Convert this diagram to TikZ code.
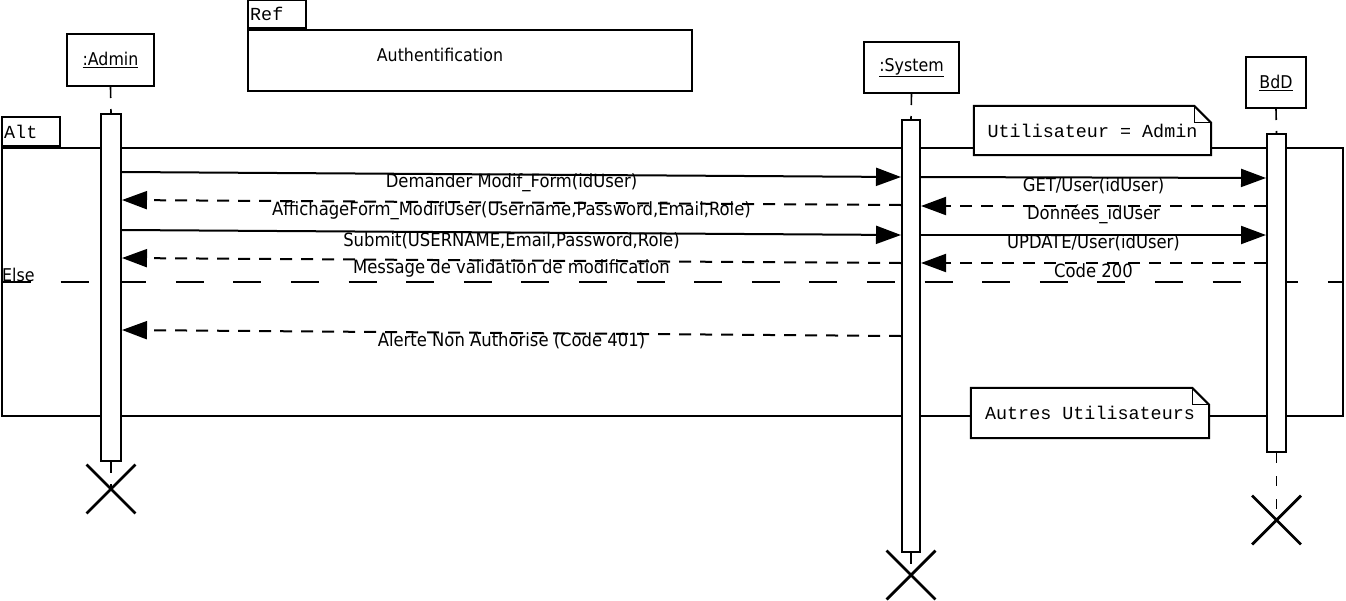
\documentclass[tikz,border=0pt]{standalone}
\usepackage{fontspec}
\setmainfont{DejaVu Sans Condensed}
\newfontfamily\codefont{Liberation Mono}
\usetikzlibrary{arrows.meta,shapes.misc}
\begin{document}
\begin{tikzpicture}[x=1pt,y=-1pt,
  every node/.style={font=\fontsize{17.6}{20}\selectfont, inner sep=0pt},
  objbox/.style={draw, line width=2pt, fill=white},
  actbar/.style={draw, line width=2pt, fill=white, anchor=north, minimum width=19pt},
  frame/.style={draw, line width=2pt},
  life/.style={line width=1.6pt, dash pattern=on 11pt off 11pt},
  call/.style={line width=2pt, -{Triangle[length=25pt,width=18pt]}},
  reply/.style={call, dash pattern=on 12pt off 9pt},
  lbl/.style={midway, yshift=-8pt, font=\fontsize{18.25}{20}\selectfont},
  mono/.style={font=\codefont\fontsize{18.4}{20}\selectfont},
  notebox/.style={mono, fill=white},
  fold/.style={line width=1pt},
  kill/.style={draw, cross out, line width=2.8pt, minimum width=46pt, minimum height=46pt},
]
\useasboundingbox (0,0) rectangle (1346,600);

% lifeline heads
\node[objbox, minimum width=87pt, minimum height=52pt] (admin) at (110.5,60) {\underline{:Admin}};
\node[objbox, minimum width=95pt, minimum height=51pt] (sys) at (911.5,67.5) {\underline{:System}};
\node[objbox, minimum width=60pt, minimum height=51pt] (bdd) at (1276,82.5) {\underline{BdD}};

% referenced interaction
\node[frame, anchor=north west, minimum width=444pt, minimum height=61pt] (ref) at (247,29) {};
\node[frame, anchor=south west, minimum width=58pt, minimum height=28pt] (reftab) at (ref.north west) {};
\node[mono, anchor=west] (reflbl) at ([xshift=3pt]reftab.west) {Ref};
\node (auth) at (440,55) {Authentification};

% combined fragment
\node[frame, anchor=north west, minimum width=1341pt, minimum height=268pt] (alt) at (1,147) {};
\node[frame, anchor=south west, minimum width=58pt, minimum height=29pt] (alttab) at (alt.north west) {};
\node[mono, anchor=west] (altlbl) at ([xshift=3pt]alttab.west) {Alt};
\coordinate (elseL) at (3,282);
\draw[line width=2pt, dash pattern=on 28pt off 29.6pt] (elseL) -- (alt.east |- elseL);
\node[anchor=west] (elselbl) at (2,275) {Else};

% activation bars
\node[actbar, minimum width=20pt, minimum height=347pt] (adminbar) at (111,113) {};
\node[actbar, minimum width=18pt, minimum height=432pt] (sysbar) at (911,119) {};
\node[actbar, minimum width=19pt, minimum height=318pt] (bddbar) at (1276.5,133) {};

% destruction marks
\node[kill] (adminx) at (111,489) {};
\node[kill] (sysx) at (911,575) {};
\node[kill] (bddx) at (1276.5,520) {};

% lifelines
\draw[life] (admin.south) -- (adminbar.north);
\draw[life] (sys.south) -- (sysbar.north);
\draw[life] (bdd.south) -- (bddbar.north);
\draw[life] (adminbar.south) -- (adminx.center);
\draw[life] (sysbar.south) -- (sysx.center);
\draw[life, dash pattern=on 10pt off 13pt] (bddbar.south) -- (bddx.center);

% redraw bars over lifelines
\node[actbar, minimum width=20pt, minimum height=347pt] at (111,113) {};
\node[actbar, minimum width=18pt, minimum height=432pt] at (911,119) {};
\node[actbar, minimum width=19pt, minimum height=318pt] at (1276.5,133) {};

% guard notes
\node[notebox, minimum width=237pt, minimum height=49pt] (n1) at (1092.5,130.5) {Utilisateur = Admin};
\draw[line width=2pt] (n1.north west) -- ([xshift=-17pt]n1.north east) -- ([yshift=-17pt]n1.north east)
  -- (n1.south east) -- (n1.south west) -- cycle;
\draw[fold] ([xshift=-17pt]n1.north east) -- ([xshift=-17pt,yshift=-17pt]n1.north east) -- ([yshift=-17pt]n1.north east);

\node[notebox, minimum width=238pt, minimum height=50pt] (n2) at (1090,413) {Autres Utilisateurs};
\draw[line width=2pt] (n2.north west) -- ([xshift=-17pt]n2.north east) -- ([yshift=-17pt]n2.north east)
  -- (n2.south east) -- (n2.south west) -- cycle;
\draw[fold] ([xshift=-17pt]n2.north east) -- ([xshift=-17pt,yshift=-17pt]n2.north east) -- ([yshift=-17pt]n2.north east);

% messages Admin <-> System
\draw[call] (adminbar.east |- 0,172) -- (sysbar.west |- 0,177) node[lbl] {Demander Modif\_Form(idUser)};
\draw[reply] (sysbar.west |- 0,205) -- (adminbar.east |- 0,200) node[lbl] {AffichageForm\_ModifUser(Username,Password,Email,Role)};
\draw[call] (adminbar.east |- 0,230) -- (sysbar.west |- 0,235) node[lbl] {Submit(USERNAME,Email,Password,Role)};
\draw[reply] (sysbar.west |- 0,263) -- (adminbar.east |- 0,258) node[lbl] {Message de validation de modification};
\draw[reply] (sysbar.west |- 0,336) -- (adminbar.east |- 0,330) node[lbl] {Alerte Non Authorise (Code 401)};

% messages System <-> BdD
\draw[call] (sysbar.east |- 0,177) -- (bddbar.west |- 0,178) node[lbl] {GET/User(idUser)};
\draw[reply] (bddbar.west |- 0,206) -- (sysbar.east |- 0,206) node[lbl] {Données\_idUser};
\draw[call] (sysbar.east |- 0,235) -- (bddbar.west |- 0,235) node[lbl] {UPDATE/User(idUser)};
\draw[reply] (bddbar.west |- 0,263) -- (sysbar.east |- 0,263) node[lbl] {Code 200};
\end{tikzpicture}
\end{document}
